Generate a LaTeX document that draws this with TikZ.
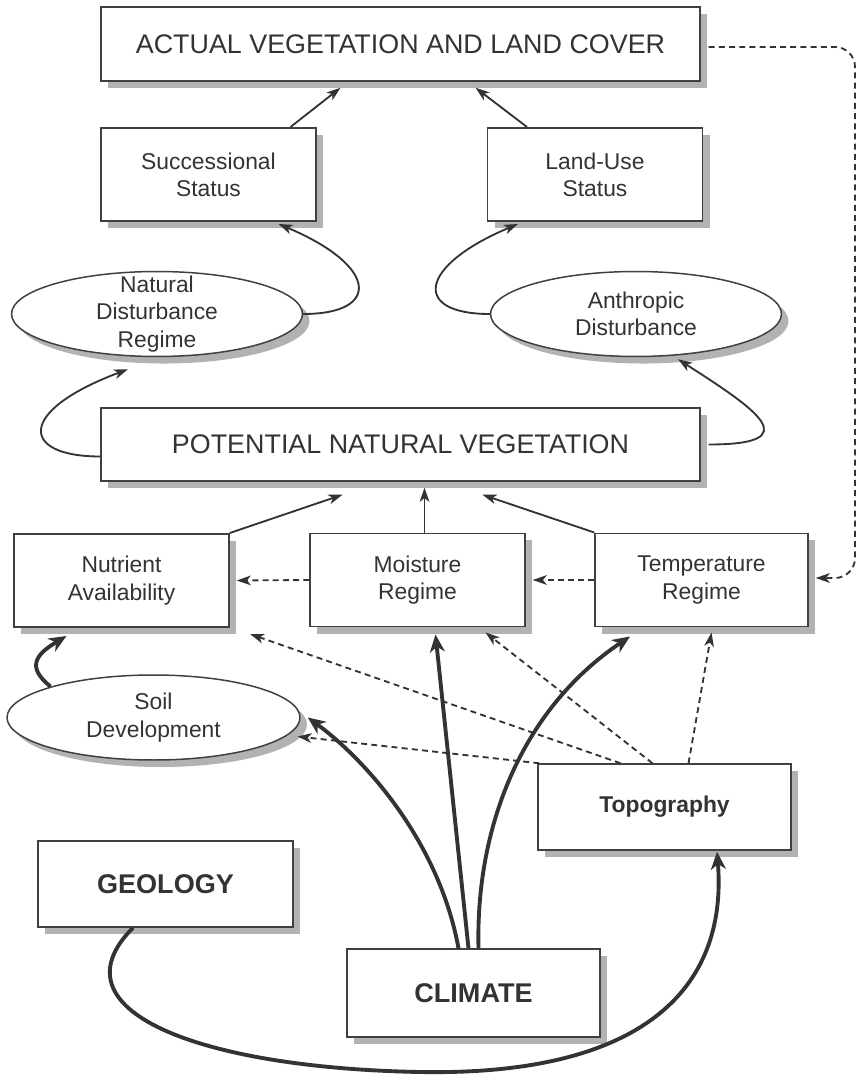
\documentclass[tikz,border=0pt]{standalone}
\usepackage{fontspec}
\setmainfont{Liberation Sans}
\usepackage{tikz}
\usetikzlibrary{arrows.meta,shapes.geometric,shadows,calc}

\begin{document}
\begin{tikzpicture}[x=0.02cm, y=-0.02cm,
every node/.style={text=black!80, align=center, inner sep=0pt},
box/.style={draw=black!75, line width=0.85pt, fill=white,
	drop shadow={shadow xshift=4pt, shadow yshift=-4pt, fill=black!30, opacity=1}},
big/.style={box, font=\fontsize{15.3}{18}\selectfont},
small/.style={box, font=\fontsize{13}{15.5}\selectfont},
oval/.style={small, ellipse, inner xsep=0pt, inner ysep=-8pt},
heavy/.style={box, font=\fontsize{15.4}{18}\selectfont\bfseries},
link/.style={draw=black!80, line width=1.05pt, -{Stealth[length=8pt,width=5.5pt,inset=2.2pt]}},
weak/.style={link, dash pattern=on 3.4pt off 2.4pt},
strong/.style={link, line width=2.2pt, -{Stealth[length=10pt,width=8.5pt,inset=3pt]}}]
\def\wide{11.98cm}
\def\bw{4.3cm}
\def\bh{1.87cm}
\fill[white] (0,0) rectangle (857,1077);
\useasboundingbox (0,0) rectangle (857,1077);

%vegetation levels
\node[big, minimum width=\wide, minimum height=1.48cm] (actual) at (400.5,44) {ACTUAL VEGETATION AND LAND COVER};
\node[small, minimum width=\bw, minimum height=\bh] (succ) at (208.5,174.5) {Successional\\Status};
\node[small, minimum width=\bw, minimum height=\bh] (landuse) at (595,174.5) {Land-Use\\Status};
\node[oval, minimum width=5.82cm, minimum height=1.7cm] (natdist) at (157,314) {Natural\\Disturbance\\Regime};
\node[oval, minimum width=5.82cm, minimum height=1.7cm] (anthdist) at (636,314) {Anthropic\\Disturbance};
\node[big, minimum width=\wide, minimum height=1.46cm] (pnv) at (400.5,444.5) {POTENTIAL NATURAL VEGETATION};

%regimes
\node[small, minimum width=\bw, minimum height=\bh] (nutrient) at (121.5,580.5) {Nutrient\\Availability};
\node[small, minimum width=\bw, minimum height=\bh] (moisture) at (417.5,580) {Moisture\\Regime};
\node[small, minimum width=4.26cm, minimum height=\bh] (temperature) at (701.5,580) {Temperature\\Regime};
\node[oval, minimum width=5.86cm, minimum height=1.7cm] (soil) at (153.5,717.5) {Soil\\Development};

%site factors
\node[heavy, font=\fontsize{13}{15.5}\selectfont\bfseries, minimum width=5.06cm, minimum height=1.72cm] (topo) at (664.5,807) {Topography};
\node[heavy, minimum width=5.1cm, minimum height=1.72cm] (geology) at (165.5,884) {GEOLOGY};
\node[heavy, minimum width=5.06cm, minimum height=1.76cm] (climate) at (473.5,993) {CLIMATE};

%upper part
\draw[link] ($(succ.north)+(82,0)$) -- ($(actual.south)+(-60,6)$);
\draw[link] ($(landuse.north)+(-68,0)$) -- ($(actual.south)+(75,6)$);
\draw[link] (natdist.east) .. controls +(78,0) and +(100,42) .. ($(succ.south)+(70,2)$);
\draw[link] (anthdist.west) .. controls +(-78,0) and +(-100,42) .. ($(landuse.south)+(-77,2)$);
\draw[link] ($(pnv.west)+(0,12)$) .. controls +(-80,0) and +(-112,42) .. ($(natdist.south)+(-29,12)$);
\draw[link] ($(pnv.east)+(8,0)$) .. controls +(100,0) and +(78,50) .. ($(anthdist.south)+(42,2)$);

%regimes up to potential vegetation
\draw[link] (nutrient.north east) -- ($(pnv.south)+(-58,13)$);
\draw[link] ($(moisture.north)+(7,0)$) -- ($(pnv.south)+(24,6)$);
\draw[link] (temperature.north west) -- ($(pnv.south)+(82,13)$);
\draw[weak] (moisture.west) -- ($(nutrient.east)+(7,0)$);
\draw[weak] (temperature.west) -- ($(moisture.east)+(7,0)$);

%feedback on the right side
\coordinate (fbtop) at (855,47);
\coordinate (fbbot) at (855,578);
\draw[weak, rounded corners=0.4cm] ($(actual.east)+(8,3)$) -- (fbtop) -- (fbbot) -- ($(temperature.east)+(7,-2)$);

%dashed lines out of topography
\draw[weak] ($(topo.north west)+(2,0)$) -- ($(soil.center)+(144,19)$);
\foreach \tgt/\sx/\tx/\ty in {nutrient/-44/128.5/6, moisture/-12/68/5, temperature/24/10/5}
	\draw[weak] ($(topo.north)+(\sx,0)$) -- ($(\tgt.south)+(\tx,\ty)$);

%climate and geology
\draw[strong] ($(climate.north)+(-15,0)$) .. controls +(-20,-109) and +(55,40) .. ($(soil.east)+(7,0)$);
\draw[strong] ($(climate.north)+(-5,0)$) -- ($(moisture.south)+(18,7)$);
\draw[strong] ($(climate.north)+(5,0)$) .. controls +(-3,-119) and +(-110,74) .. ($(temperature.south)+(-71.5,9)$);
\draw[strong] ($(soil.center)+(-103,-31)$) .. controls +(-25,-20) and +(-30,18) .. ($(nutrient.south)+(-55,8)$);
\coordinate (loop) at (420,1072);
\draw[strong] ($(geology.south)+(-32.5,0)$) .. controls +(-83,83) and +(-220,-4) .. (loop)
	.. controls +(220,4) and +(11,139) .. ($(topo.south)+(52.5,1)$);
\end{tikzpicture}
\end{document}
